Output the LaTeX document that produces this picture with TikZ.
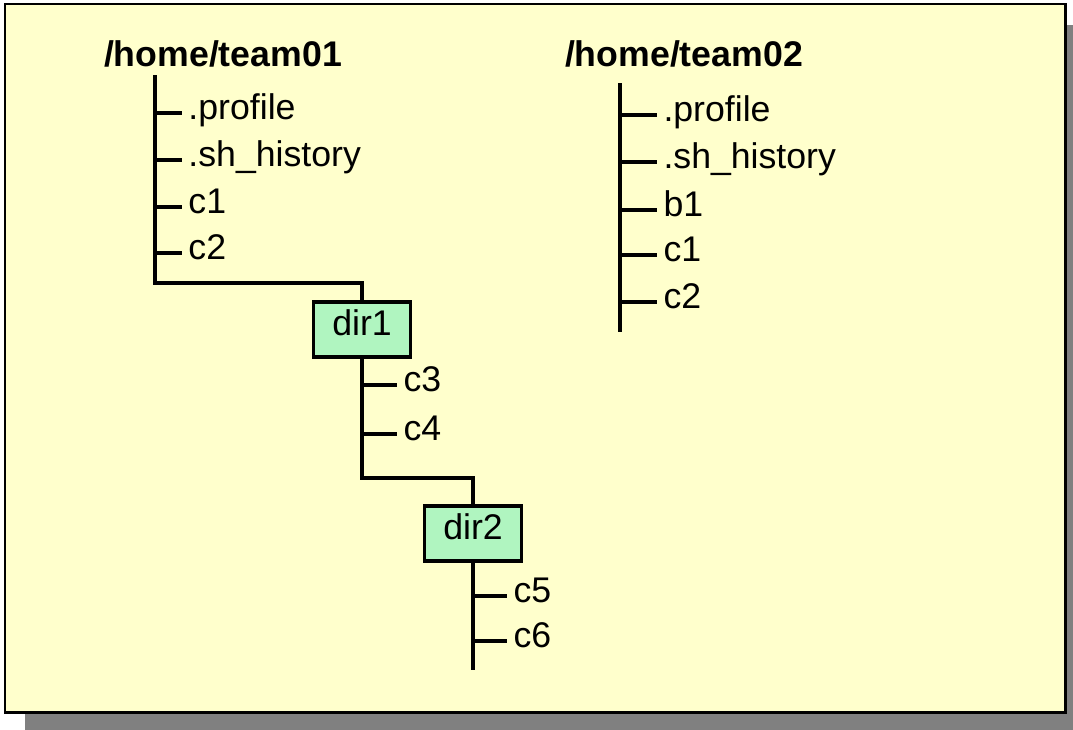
\documentclass[tikz,border=0pt]{standalone}
\usepackage{fontspec}
\setmainfont{Liberation Sans}
\usepackage{xcolor}
\definecolor{paper}{HTML}{FFFFCC}
\definecolor{dirgreen}{HTML}{B0F5C0}
\definecolor{shadow}{HTML}{808080}

\begin{document}
\begin{tikzpicture}[x=0.02cm, y=-0.02cm, line width=0.08cm,
    every node/.style={font=\fontsize{20.3}{24}\selectfont, text height=0.72em, text depth=0pt},
    root/.style={font=\fontsize{20.3}{24}\selectfont\bfseries, anchor=base west, inner sep=0pt},
    file/.style={anchor=west, inner xsep=0.09cm, inner ysep=0pt},
    dirbox/.style={draw, fill=dirgreen, line width=0.07cm, minimum width=1.94cm, minimum height=1.1cm, inner sep=0pt}]
  \useasboundingbox (0,0) rectangle (1073,730);
  \fill[shadow] (25,25) rectangle (1073,730);
  \draw[fill=paper, line width=0.06cm] (5,4) rectangle (1065,712);

  % first home directory
  \node[root] (home1) at (102,67) {/home/team01};
  \coordinate (t1top) at (155,75);
  \coordinate (t1bend) at (155,283);
  \node[file] (t1prof) at (182,113) {.profile};
  \node[file] (t1hist) at (182,160) {.sh\_history};
  \node[file] (t1c1) at (182,207) {c1};
  \node[file] (t1c2) at (182,253) {c2};
  \node[dirbox] (dir1) at (362,329.5) {dir1};
  \draw (t1top) -- (t1bend) -| (dir1.north);
  \foreach \f in {t1prof,t1hist,t1c1,t1c2}
    \draw (t1top |- \f.west) -- (\f.west);

  % dir1
  \coordinate (d1bend) at (362,478);
  \node[file] (c3) at (397,385) {c3};
  \node[file] (c4) at (397,434) {c4};
  \node[dirbox] (dir2) at (473,533.5) {dir2};
  \draw (dir1.south) -- (d1bend) -| (dir2.north);
  \foreach \f in {c3,c4}
    \draw (dir1.south |- \f.west) -- (\f.west);

  % dir2
  \coordinate (d2end) at (473,670);
  \node[file] (c5) at (507,596) {c5};
  \node[file] (c6) at (507,641) {c6};
  \draw (dir2.south) -- (d2end);
  \foreach \f in {c5,c6}
    \draw (dir2.south |- \f.west) -- (\f.west);

  % second home directory
  \node[root] (home2) at (563,67) {/home/team02};
  \coordinate (t2top) at (620,83);
  \coordinate (t2end) at (620,332);
  \node[file] (t2prof) at (657,115) {.profile};
  \node[file] (t2hist) at (657,162) {.sh\_history};
  \node[file] (t2b1) at (657,210) {b1};
  \node[file] (t2c1) at (657,255) {c1};
  \node[file] (t2c2) at (657,302) {c2};
  \draw (t2top) -- (t2end);
  \foreach \f in {t2prof,t2hist,t2b1,t2c1,t2c2}
    \draw (t2top |- \f.west) -- (\f.west);
\end{tikzpicture}
\end{document}
